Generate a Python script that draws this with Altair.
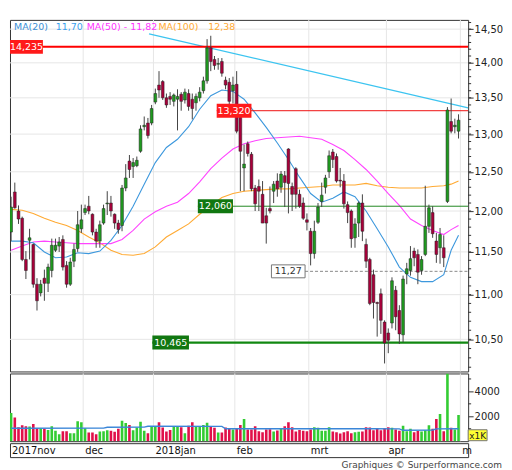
import altair as alt
import pandas as pd

# ---------------- data ----------------
opens = [11.74,12.24,12.00,11.91,11.41,11.64,11.59,11.12,11.02,11.19,
         11.13,11.28,11.52,11.57,11.65,11.34,11.12,11.39,11.54,11.78,
         11.98,12.06,11.96,11.74,11.63,11.85,12.09,12.10,11.96,11.85,
         11.82,12.29,12.64,12.57,12.58,12.77,13.10,13.15,13.15,13.44,
         13.68,13.73,13.50,13.52,13.45,13.48,13.55,13.47,13.56,13.48,
         13.43,13.50,13.60,13.74,14.22,14.05,13.98,14.02,13.75,13.72,
         13.60,13.69,13.23,12.55,12.87,12.73,12.29,12.31,12.21,11.94,
         12.03,12.25,12.38,12.30,12.45,12.80,12.31,12.54,12.21,12.10,
         11.89,11.75,11.48,11.86,12.12,12.30,12.50,12.76,12.70,12.39,
         12.38,12.08,12.00,11.67,11.85,12.10,11.59,11.41,11.23,10.91,
         11.01,10.69,10.57,10.68,11.05,10.82,10.55,11.24,11.28,11.51,
         11.47,11.28,11.47,11.81,11.98,11.63,11.55,11.55,12.12,13.17,
         13.10,13.04]
highs = [12.18,12.36,12.07,11.93,11.51,11.78,11.60,11.19,11.17,11.29,
         11.36,11.66,11.66,11.68,11.70,11.39,11.43,11.60,12.00,12.08,
         12.08,12.19,11.97,11.78,11.88,12.08,12.25,12.19,11.97,11.89,
         12.33,12.60,12.72,12.68,12.70,13.12,13.24,13.22,13.40,13.63,
         13.88,13.75,13.56,13.58,13.56,13.62,13.58,13.63,13.62,13.56,
         13.56,13.65,13.80,14.35,14.40,14.10,14.07,14.07,13.80,13.78,
         13.80,13.88,13.28,12.86,12.90,12.76,12.33,12.40,12.38,12.04,
         12.31,12.38,12.48,12.51,12.51,12.81,12.36,12.56,12.27,12.17,
         11.97,11.79,11.88,12.10,12.36,12.46,12.78,12.80,12.74,12.55,
         12.47,12.12,12.02,11.91,12.12,12.21,11.66,11.43,11.29,10.92,
         11.07,10.71,10.62,11.20,11.10,10.88,11.22,11.37,11.57,11.55,
         11.53,11.45,12.32,12.08,12.06,11.73,11.79,11.70,13.37,13.49,
         13.21,13.27]
lows = [11.63,12.03,11.84,11.39,11.18,11.41,11.08,10.82,10.98,10.93,
        11.03,11.20,11.50,11.50,11.28,11.08,11.10,11.32,11.50,11.73,
        11.95,11.96,11.70,11.55,11.55,11.83,11.95,11.93,11.78,11.72,
        11.75,12.25,12.42,12.42,12.56,12.75,13.05,12.94,13.12,13.41,
        13.50,13.47,13.36,13.40,13.38,13.05,13.32,13.42,13.32,13.20,
        13.32,13.45,13.56,13.70,13.88,13.90,13.90,13.80,13.62,13.28,
        13.42,13.01,12.25,12.25,12.70,12.25,12.00,12.00,11.85,11.60,
        11.97,12.10,12.18,12.23,12.05,11.97,12.00,12.03,12.04,11.89,
        11.76,11.34,11.42,11.84,12.05,12.22,12.42,12.55,12.36,12.30,
        12.03,11.85,11.55,11.55,11.68,11.63,11.31,10.88,10.73,10.53,
        10.56,10.24,10.35,10.62,10.60,10.45,10.47,11.12,11.22,11.33,
        11.12,11.23,11.45,11.73,11.67,11.37,11.36,11.32,12.10,13.01,
        13.01,12.94]
closes = [12.05,12.04,11.90,11.41,11.28,11.67,11.12,10.93,11.12,11.13,
          11.32,11.58,11.58,11.62,11.32,11.12,11.38,11.53,11.83,11.89,
          12.03,12.00,11.74,11.63,11.83,12.03,12.10,12.00,11.85,11.77,
          12.29,12.42,12.53,12.62,12.65,13.07,13.12,12.98,13.35,13.56,
          13.61,13.50,13.40,13.48,13.54,13.52,13.45,13.58,13.38,13.35,
          13.52,13.58,13.74,14.22,14.02,13.96,13.99,13.85,13.68,13.45,
          13.68,13.04,12.77,12.60,12.74,12.28,12.09,12.25,11.85,11.85,
          12.00,12.34,12.28,12.47,12.36,12.35,12.21,12.21,12.06,11.91,
          11.86,11.48,11.75,12.05,12.20,12.42,12.71,12.66,12.38,12.38,
          12.09,11.98,11.66,11.84,12.10,11.75,11.39,10.90,10.91,10.90,
          10.71,10.46,10.49,11.16,10.75,10.56,11.18,11.30,11.42,11.43,
          11.26,11.41,11.81,12.04,11.72,11.47,11.71,11.43,13.33,13.04,
          13.12,13.19]
volumes = [2270,1900,1120,1280,1200,1170,1390,1040,1040,990,
           900,1200,830,560,800,800,640,640,1600,1520,
           1040,700,700,560,770,800,880,830,750,990,
           1650,1470,1300,880,1090,1570,830,640,1170,1170,
           1520,1090,770,900,1170,1170,1120,640,1250,1520,
           1170,1170,1300,1490,1170,1070,700,700,1090,990,
           930,1040,1300,1790,930,930,1200,800,720,930,
           960,770,850,990,1200,1520,1120,770,900,830,
           800,930,1120,1070,830,830,1120,770,720,610,
           720,800,640,720,750,770,1120,1090,880,1040,
           880,1040,1120,1070,930,830,1250,800,990,720,
           830,770,880,1280,990,1790,2190,800,5440,1070,
           930,2110]

ma_days = [0,3,6,9,12,15,18,21,24,27,30,33,36,39,42,45,48,51,54,57,60,
           63,66,69,72,75,78,81,84,87,90,93,96,99,102,105,108,111,114,117,119,121]
ma20 = [11.63,11.63,11.61,11.50,11.43,11.44,11.49,11.48,11.51,11.64,
        11.82,12.06,12.34,12.62,12.82,12.93,13.10,13.34,13.53,13.61,
        13.59,13.48,13.29,13.09,12.88,12.66,12.43,12.22,12.11,12.16,
        12.24,12.18,12.00,11.78,11.56,11.32,11.20,11.15,11.15,11.23,
        11.52,11.70]
ma50 = [11.52,11.57,11.62,11.63,11.62,11.61,11.60,11.60,11.60,11.60,
        11.65,11.76,11.90,11.99,12.06,12.11,12.22,12.37,12.54,12.68,
        12.80,12.87,12.91,12.94,12.95,12.96,12.97,12.95,12.93,12.86,
        12.78,12.66,12.53,12.38,12.22,12.07,11.90,11.82,11.76,11.71,
        11.77,11.82]
ma100 = [12.02,12.01,11.97,11.91,11.86,11.82,11.76,11.68,11.61,11.52,
         11.47,11.46,11.48,11.56,11.68,11.76,11.84,11.96,12.07,12.17,
         12.22,12.25,12.26,12.27,12.28,12.28,12.29,12.30,12.31,12.33,
         12.33,12.33,12.35,12.32,12.30,12.29,12.29,12.29,12.31,12.32,
         12.34,12.38]

vma_days = [0,25,26,36,37,57,58,98,105,106,114,115,121]
vma = [1040,1050,1120,1130,1200,1190,1000,1000,990,880,900,990,1000]

trend_days = [37.3, 123.6]
trend_prices = [14.43, 13.36]

level_prices = [14.235, 13.320, 12.060, 10.465, 11.27]
level_text = ["14,235", "13,320", "12,060", "10,465", "11,27"]
level_start = [-0.3, 55.6, 50.5, 38.2, 70.4]
level_box_end = [8.6, 65.0, 60.0, 48.1, 79.5]

month_days = [-0.3, 19.5, 38.5, 60.5, 80.5, 101.5, 121.5]
month_labels = ["2017nov", "dec", "2018jan", "feb", "mrt", "apr", "m"]

grid_prices = [10.5, 11.0, 11.5, 12.0, 12.5, 13.0, 13.5, 14.0, 14.5]
minor_prices = [round(10.2 + 0.1 * i, 1) for i in range(45)]
vol_labels = [2000, 4000]
vol_minor = [1000, 3000, 5000]

legend_items = [("MA(20)", "#3a8fd6"), ("11,70", "#3aa0ee"), ("MA(50) - 11,82", "#ff33ff"),
                ("MA(100)", "#ffaa33"), ("12,38", "#ffaa33")]

# ---------------- layout / style ----------------
W = 460
H_MAIN = 353
H_VOL = 68
H_LAB = 14
X_DOM = [-0.3, 123.6]
FONT = "DejaVu Sans"
GRID = "#e6e6e6"
UP_BODY, DOWN_BODY = "#1f9a1f", "#a8003a"
UP_VOL, DOWN_VOL = "#33cc33", "#e0104a"

n = len(opens)
candles = pd.DataFrame({"day": list(range(n)), "open": opens, "high": highs,
                        "low": lows, "close": closes, "volume": volumes})
is_up = "datum.close >= datum.open"

xs = alt.Scale(domain=X_DOM, nice=False, zero=False, padding=0)
ys = alt.Scale(type="log", domain=[10.155, 14.64], nice=False, padding=0)
vs = alt.Scale(domain=[0, 5440], nice=False, zero=True, padding=0)

y_axis = alt.Axis(orient="right", values=grid_prices, title=None, grid=False, domain=False,
                  tickSize=5, tickColor="#333", labelColor="#222", labelFontSize=10,
                  labelPadding=1, labelOverlap=False, labelFlush=False,
                  labelExpr="replace(format(datum.value, '.2f'), '.', ',')")
v_axis = alt.Axis(orient="right", values=vol_labels, title=None, grid=False, domain=False,
                  tickSize=5, tickColor="#333", labelColor="#222", labelFontSize=10,
                  labelPadding=1, labelOverlap=False, labelFlush=False, format="d")


def X(field):
    return alt.X(f"{field}:Q", scale=xs, axis=None)


def Y(field):
    return alt.Y(f"{field}:Q", scale=ys, axis=y_axis)


def V(field):
    return alt.Y(f"{field}:Q", scale=vs, axis=v_axis)


one = pd.DataFrame({"a": [0]})

# ---------------- main panel ----------------
hgrid = alt.Chart(pd.DataFrame({"p": grid_prices})).mark_rule(color=GRID).encode(y=Y("p"))
vgrid = alt.Chart(pd.DataFrame({"d": month_days[1:]})).mark_rule(color=GRID).encode(x=X("d"))
minor = alt.Chart(pd.DataFrame({"p": minor_prices})).mark_rule(color="#333", strokeWidth=1).encode(
    x=alt.value(W), x2=alt.value(W + 3), y=Y("p"))

ma_layers = []
for vals, col in [(ma100, "#ffaa33"), (ma50, "#ff44ff"), (ma20, "#3d98dd")]:
    ma_layers.append(alt.Chart(pd.DataFrame({"day": ma_days, "value": vals})).mark_line(
        strokeWidth=1.1, clip=True, color=col).encode(x=X("day"), y=Y("value")))

trend = alt.Chart(pd.DataFrame({"day": trend_days, "p": trend_prices})).mark_line(
    color="#3cc4f0", strokeWidth=1.3, clip=True).encode(x=X("day"), y=Y("p"))

line_colors = ["#ff0000", "#ee1111", "#228822", "#118811", "#888888"]
line_widths = [2, 1, 1, 2.2, 1]
lv = pd.DataFrame({"p": level_prices, "start": level_start, "end": [X_DOM[1]] * 5,
                   "c": line_colors, "w": line_widths, "x0": level_start,
                   "x1": level_box_end, "t": level_text})
lv["xm"] = (lv["x0"] + lv["x1"]) / 2

solid_lines = alt.Chart(lv.iloc[:4]).mark_rule(clip=True).encode(
    x=X("start"), x2="end", y=Y("p"),
    color=alt.Color("c:N", scale=None), strokeWidth=alt.StrokeWidth("w:Q", scale=None))
dash_line = alt.Chart(lv.iloc[4:]).mark_rule(color="#888888", strokeDash=[3, 2], clip=True).encode(
    x=X("x1"), x2="end", y=Y("p"))

wicks = alt.Chart(candles).mark_rule(color="#444444", strokeWidth=1, clip=True).encode(
    x=X("day"), y=Y("low"), y2="high")
bodies = alt.Chart(candles).mark_bar(size=2.8, stroke="#222222", strokeWidth=0.5, clip=True).encode(
    x=X("day"), y=Y("open"), y2="close",
    color=alt.condition(is_up, alt.value(UP_BODY), alt.value(DOWN_BODY)))

box_bg = ["#ff1a1a", "#ff1a1a", "#117711", "#117711"]
lvb = lv.iloc[:4].copy()
lvb["bg"] = box_bg
boxes = alt.Chart(lvb).mark_bar(size=14, clip=True).encode(
    x=X("x0"), x2="x1", y=Y("p"), color=alt.Color("bg:N", scale=None))
box_txt = alt.Chart(lvb).mark_text(color="white", fontSize=9.5, baseline="middle").encode(
    x=X("xm"), y=Y("p"), text="t:N")
wbox = alt.Chart(lv.iloc[4:]).mark_bar(size=13, fill="white", stroke="#777777", strokeWidth=1).encode(
    x=X("x0"), x2="x1", y=Y("p"))
wbox_txt = alt.Chart(lv.iloc[4:]).mark_text(color="#333333", fontSize=9.5, baseline="middle").encode(
    x=X("xm"), y=Y("p"), text="t:N")

legend_x = [4, 46, 77, 149, 199]
legend_layers = []
for (txt, col), px in zip(legend_items, legend_x):
    legend_layers.append(alt.Chart(one).mark_text(align="left", baseline="middle", fontSize=9.5,
                                                  color=col).encode(
        x=alt.value(px), y=alt.value(7), text=alt.value(txt)))

main = alt.layer(hgrid, vgrid, minor, *ma_layers, trend, solid_lines, dash_line, wicks, bodies,
                 boxes, box_txt, wbox, wbox_txt, *legend_layers).properties(
    width=W, height=H_MAIN)

# ---------------- volume panel ----------------
vgrid2 = alt.Chart(pd.DataFrame({"d": month_days[1:]})).mark_rule(color=GRID).encode(x=X("d"))
vminor = alt.Chart(pd.DataFrame({"v": vol_minor})).mark_rule(color="#333", strokeWidth=1).encode(
    x=alt.value(W), x2=alt.value(W + 3), y=V("v"))
vbars = alt.Chart(candles).mark_bar(size=2.6, clip=True).encode(
    x=X("day"), y=V("volume"),
    color=alt.condition(is_up, alt.value(UP_VOL), alt.value(DOWN_VOL)))
vline = alt.Chart(pd.DataFrame({"day": vma_days, "v": vma})).mark_line(
    color="#3a86d8", strokeWidth=1.3).encode(x=X("day"), y=V("v"))
kbox = alt.Chart(one).mark_rect(fill="#ffff33", stroke="#777777", strokeWidth=1).encode(
    x=alt.value(460), x2=alt.value(479), y=alt.value(56.5), y2=alt.value(67.5))
ktxt = alt.Chart(one).mark_text(fontSize=9, color="#222222", baseline="middle").encode(
    x=alt.value(469.5), y=alt.value(62.5), text=alt.value("x1K"))

vol = alt.layer(vgrid2, vminor, vbars, vline, kbox, ktxt).properties(width=W, height=H_VOL)

# ---------------- month label panel ----------------
mlab = alt.Chart(pd.DataFrame({"d": month_days, "t": month_labels})).mark_text(
    align="left", baseline="middle", dx=2, fontSize=10, color="#111111").encode(
    x=X("d"), y=alt.value(7.5), text="t:N")
footer = alt.Chart(one).mark_text(align="right", baseline="middle", fontSize=9, color="#444444").encode(
    x=alt.value(494), y=alt.value(22), text=alt.value("Graphiques \u00a9 Surperformance.com"))
labels = alt.layer(mlab, footer).properties(width=W, height=H_LAB)

chart = alt.vconcat(main, vol, labels, spacing=0).properties(
    padding={"left": 0, "top": 10, "right": 0, "bottom": 0},
    background="white",
).configure(font=FONT).configure_view(stroke="#333333", strokeWidth=1)

chart.save("out.html", embed_options={"renderer": "svg", "actions": False})
